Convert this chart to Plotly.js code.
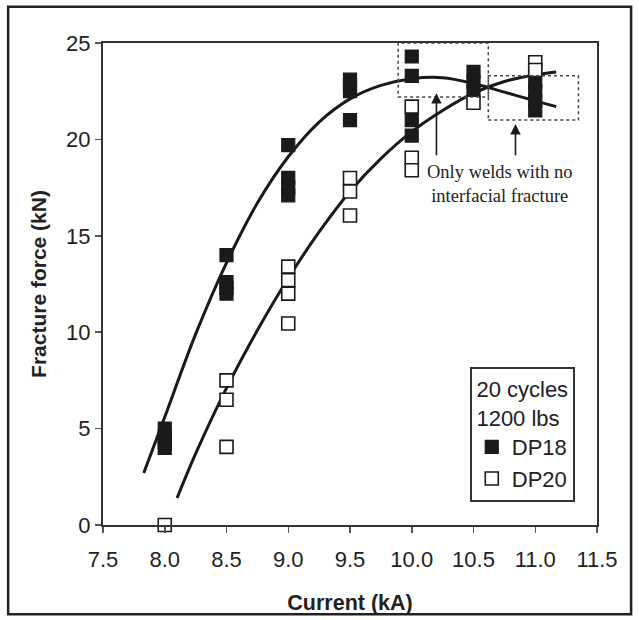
<!DOCTYPE html>
<html>
<head>
<meta charset="utf-8">
<script src="https://cdn.plot.ly/plotly-3.0.1.min.js"></script>
<style>html,body{margin:0;padding:0;background:#fff;}#chart{width:639px;height:620px;}</style>
</head>
<body>
<div id="chart"></div>
<script>
// DP18 measured points (filled squares)
const dp18X = [8.0, 8.0, 8.0, 8.0, 8.5, 8.5, 8.5, 8.5, 9.0, 9.0, 9.0, 9.0, 9.5, 9.5, 9.5, 9.5, 10.0, 10.0, 10.0, 10.0, 10.5, 10.5, 10.5, 11.0, 11.0, 11.0, 11.0];
const dp18Y = [5.0, 4.6, 4.3, 4.0, 14.0, 12.6, 12.3, 12.0, 19.7, 18.0, 17.5, 17.1, 23.1, 22.8, 22.5, 21.0, 24.3, 23.3, 21.0, 20.2, 23.5, 23.0, 22.5, 23.0, 22.5, 22.0, 21.5];
// DP20 measured points (open squares)
const dp20X = [8.0, 8.5, 8.5, 8.5, 9.0, 9.0, 9.0, 9.0, 9.5, 9.5, 9.5, 10.0, 10.0, 10.0, 10.5, 11.0, 11.0];
const dp20Y = [0.0, 7.5, 6.5, 4.05, 13.4, 12.7, 12.0, 10.45, 18.0, 17.3, 16.05, 21.7, 19.05, 18.4, 21.9, 24.0, 23.6];
// Fitted curves
const fit18X = [7.83, 8.0, 8.25, 8.5, 8.75, 9.0, 9.25, 9.5, 9.75, 10.0, 10.25, 10.5, 10.75, 11.0, 11.17];
const fit18Y = [2.7, 5.6, 9.9, 13.6, 16.7, 19.1, 20.9, 22.1, 22.8, 23.15, 23.2, 22.9, 22.45, 22.0, 21.7];
const fit20X = [8.1, 8.25, 8.5, 8.75, 9.0, 9.25, 9.5, 9.75, 10.0, 10.25, 10.5, 10.75, 11.0, 11.17];
const fit20Y = [1.4, 3.7, 7.1, 10.1, 12.8, 15.2, 17.3, 19.0, 20.4, 21.5, 22.4, 23.0, 23.35, 23.5];
// Axis ticks
const xTicks = [7.5, 8.0, 8.5, 9.0, 9.5, 10.0, 10.5, 11.0, 11.5];
const xTickText = ["7.5", "8.0", "8.5", "9.0", "9.5", "10.0", "10.5", "11.0", "11.5"];
const yTicks = [0, 5, 10, 15, 20, 25];
// Highlight boxes [x0, x1, y0, y1] and arrows [x, yTail, yHead]
const box1 = [9.89, 10.62, 22.2, 25.0];
const box2 = [10.62, 11.35, 21.0, 23.3];
const arrow1 = [10.20, 19.1, 22.4];
const arrow2 = [10.84, 19.1, 20.8];
const noteText = "Only welds with no<br>interfacial fracture";
const legendTitle = "20 cycles<br>1200 lbs";

const ink = '#1a1a1a';
const traces = [
  {x: fit18X, y: fit18Y, mode: 'lines', line: {color: ink, width: 3, shape: 'spline'}, showlegend: false, hoverinfo: 'skip'},
  {x: fit20X, y: fit20Y, mode: 'lines', line: {color: ink, width: 3, shape: 'spline'}, showlegend: false, hoverinfo: 'skip'},
  {x: dp18X, y: dp18Y, mode: 'markers', name: 'DP18', cliponaxis: false,
   marker: {symbol: 'square', size: 13, color: ink, line: {color: ink, width: 1.2}}},
  {x: dp20X, y: dp20Y, mode: 'markers', name: 'DP20', cliponaxis: false,
   marker: {symbol: 'square', size: 13, color: '#ffffff', line: {color: ink, width: 1.6}}}
];

function boxShape(b) {
  return {type: 'rect', xref: 'x', yref: 'y', x0: b[0], x1: b[1], y0: b[2], y1: b[3],
          line: {color: '#444', width: 1.5, dash: 'dot'}, layer: 'above'};
}
function arrowAnn(a) {
  return {x: a[0], y: a[2], ax: a[0], ay: a[1], xref: 'x', yref: 'y', axref: 'x', ayref: 'y',
          text: '', showarrow: true, arrowhead: 2, arrowsize: 1.3, arrowwidth: 1.6, arrowcolor: ink};
}

const layout = {
  width: 639, height: 620,
  margin: {l: 103, r: 42, t: 43, b: 95},
  paper_bgcolor: '#ffffff', plot_bgcolor: '#ffffff',
  font: {family: 'Liberation Sans, Arial, sans-serif', color: '#222', size: 22},
  showlegend: true,
  legend: {
    x: 0.955, y: 0.048, xanchor: 'right', yanchor: 'bottom',
    bordercolor: '#333', borderwidth: 2, bgcolor: '#ffffff',
    font: {size: 22, color: '#222'},
    title: {text: legendTitle, side: 'top center', font: {size: 22, color: '#222'}},
    itemwidth: 30, tracegroupgap: 0
  },
  xaxis: {
    range: [7.5, 11.5], tickvals: xTicks, ticktext: xTickText,
    showgrid: false, zeroline: false, showline: true, mirror: true,
    linecolor: '#333', linewidth: 2, ticks: 'outside', ticklen: 6, tickwidth: 1.5, tickcolor: '#555',
    tickfont: {size: 22}, ticklabelstandoff: 8,
    title: {text: '<b>Current (kA)</b>', font: {size: 21.5}, standoff: 24}
  },
  yaxis: {
    range: [0, 25], tickvals: yTicks,
    showgrid: false, zeroline: false, showline: true, mirror: true,
    linecolor: '#333', linewidth: 2, ticks: 'outside', ticklen: 6, tickwidth: 1.5, tickcolor: '#555',
    tickfont: {size: 22},
    title: {text: '<b>Fracture force (kN)</b>', font: {size: 21}, standoff: 14}
  },
  shapes: [
    boxShape(box1), boxShape(box2),
    {type: 'rect', xref: 'paper', yref: 'paper', x0: -0.192, x1: 1.069, y0: -0.185, y1: 1.075,
     line: {color: '#222', width: 2.5}, layer: 'below'}
  ],
  annotations: [
    arrowAnn(arrow1), arrowAnn(arrow2),
    {x: 10.71, y: 17.7, xref: 'x', yref: 'y', text: noteText, showarrow: false,
     font: {family: 'Liberation Serif, Times New Roman, serif', size: 18.5, color: '#222'}, align: 'center'}
  ]
};

Plotly.newPlot('chart', traces, layout, {displayModeBar: false, staticPlot: true});
</script>
</body>
</html>
